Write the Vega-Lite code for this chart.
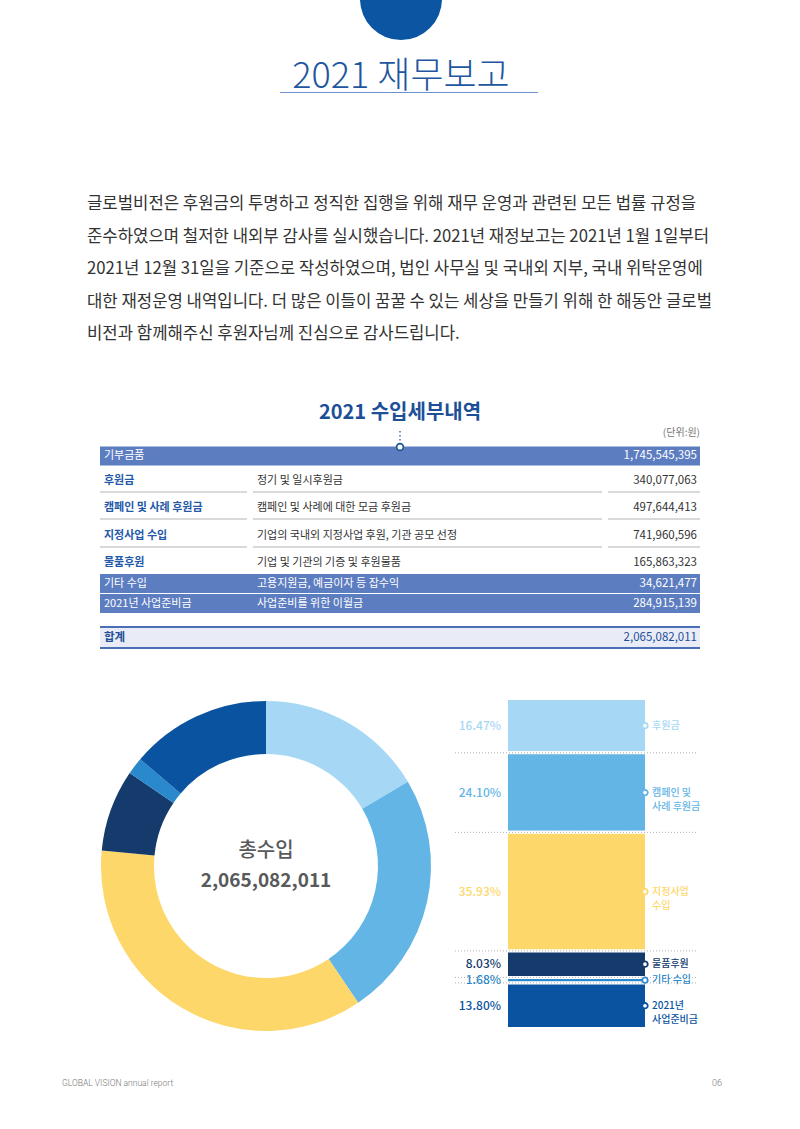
{
"$schema":"https://vega.github.io/schema/vega-lite/v6.json",
"width":800,"height":1129,"autosize":"none","padding":0,"background":"#ffffff",
"config":{"view":{"stroke":null},"font":"Noto Sans CJK KR"},
"datasets":{
"income":[
{"order":1,"item":"기부금품","desc":"","amount":1745545395,"kind":"band","share":null,"label":null,"group":"수입"},
{"order":2,"item":"후원금","desc":"정기 및 일시후원금","amount":340077063,"kind":"plain","share":0.1647,"label":"후원금","group":"수입"},
{"order":3,"item":"캠페인 및 사례 후원금","desc":"캠페인 및 사례에 대한 모금 후원금","amount":497644413,"kind":"plain","share":0.2410,"label":["캠페인 및","사례 후원금"],"group":"수입"},
{"order":4,"item":"지정사업 수입","desc":"기업의 국내외 지정사업 후원, 기관 공모 선정","amount":741960596,"kind":"plain","share":0.3593,"label":["지정사업","수입"],"group":"수입"},
{"order":5,"item":"물품후원","desc":"기업 및 기관의 기증 및 후원물품","amount":165863323,"kind":"plain","share":0.0803,"label":"물품후원","group":"수입"},
{"order":6,"item":"기타 수입","desc":"고용지원금, 예금이자 등 잡수익","amount":34621477,"kind":"band","share":0.0168,"label":"기타 수입","group":"수입"},
{"order":7,"item":"2021년 사업준비금","desc":"사업준비를 위한 이월금","amount":284915139,"kind":"band","share":0.1380,"label":["2021년","사업준비금"],"group":"수입"},
{"order":8,"item":"합계","desc":"","amount":2065082011,"kind":"total","share":null,"label":null,"group":"합계"}
],
"heading":[{"title":"2021 재무보고","subtitle":"2021 수입세부내역","unit":"(단위:원)","center":"총수입","footer":"GLOBAL VISION annual report","page":"06"}],
"paragraph":[
{"line":"글로벌비전은 후원금의 투명하고 정직한 집행을 위해 재무 운영과 관련된 모든 법률 규정을"},
{"line":"준수하였으며 철저한 내외부 감사를 실시했습니다. 2021년 재정보고는 2021년 1월 1일부터"},
{"line":"2021년 12월 31일을 기준으로 작성하였으며, 법인 사무실 및 국내외 지부, 국내 위탁운영에"},
{"line":"대한 재정운영 내역입니다. 더 많은 이들이 꿈꿀 수 있는 세상을 만들기 위해 한 해동안 글로벌"},
{"line":"비전과 함께해주신 후원자님께 진심으로 감사드립니다."}
]
},
"layer":[
{"data":{"name":"heading"},"mark":{"type":"point","shape":"circle","filled":true,"size":6724,"color":"#0b55a3","opacity":1,"strokeWidth":0},
 "encoding":{"x":{"field":"title","type":"nominal","scale":{"type":"point","range":[401,401]},"axis":null},
 "y":{"field":"title","type":"nominal","scale":{"type":"point","range":[-1,-1]},"axis":null}}},
{"data":{"name":"heading"},"mark":{"type":"text","align":"center","baseline":"alphabetic","fontSize":36,"fontWeight":300,"color":"#1e56a0"},
 "encoding":{"text":{"field":"title"},
 "x":{"field":"title","type":"nominal","scale":{"type":"point","range":[401,401]},"axis":null},
 "y":{"field":"title","type":"nominal","scale":{"type":"point","range":[88,88]},"axis":null}}},
{"data":{"name":"heading"},"mark":{"type":"tick","orient":"horizontal","size":258,"thickness":1,"color":"#6d8fcb","opacity":1},
 "encoding":{"x":{"field":"title","type":"nominal","scale":{"type":"point","range":[409,409]},"axis":null},
 "y":{"field":"title","type":"nominal","scale":{"type":"point","range":[92.5,92.5]},"axis":null}}},
{"data":{"name":"paragraph"},"mark":{"type":"text","align":"left","baseline":"middle","fontSize":16.7,"color":"#333333"},
 "encoding":{"text":{"field":"line"},
 "x":{"field":"line","type":"nominal","scale":{"type":"point","range":[87,87]},"axis":null},
 "y":{"field":"line","type":"nominal","sort":null,"scale":{"type":"point","padding":0,"range":[204,334]},"axis":null}}},
{"data":{"name":"heading"},"mark":{"type":"text","align":"center","baseline":"middle","fontSize":20,"fontWeight":"bold","color":"#1d4f97"},
 "encoding":{"text":{"field":"subtitle"},
 "x":{"field":"subtitle","type":"nominal","scale":{"type":"point","range":[400,400]},"axis":null},
 "y":{"field":"subtitle","type":"nominal","scale":{"type":"point","range":[413,413]},"axis":null}}},
{"data":{"name":"heading"},"mark":{"type":"rule","strokeDash":[1.5,2.5],"color":"#1d4f97","strokeWidth":1.2},
 "encoding":{"x":{"field":"subtitle","type":"nominal","scale":{"type":"point","range":[400,400]},"axis":null},
 "y":{"datum":0,"type":"quantitative","scale":{"domain":[0,1],"range":[431,443]},"axis":null},
 "y2":{"datum":1}}},
{"data":{"name":"heading"},"mark":{"type":"text","align":"right","baseline":"middle","fontSize":10,"color":"#777777"},
 "encoding":{"text":{"field":"unit"},
 "x":{"field":"unit","type":"nominal","scale":{"type":"point","range":[700,700]},"axis":null},
 "y":{"field":"unit","type":"nominal","scale":{"type":"point","range":[433,433]},"axis":null}}},
{"data":{"name":"income"},"transform":[{"filter":{"field":"kind","equal":"band"}}],
 "mark":{"type":"tick","orient":"horizontal","size":600,"thickness":19,"color":"#5d7dc1","opacity":1},
 "encoding":{"y":{"field":"order","type":"quantitative","scale":{"domain":[1,2,3,4,5,6,7,8],"range":[456,481,508,536,563,583.5,603.5,637.5],"zero":false,"nice":false},"axis":null}}},
{"data":{"name":"heading"},"mark":{"type":"point","shape":"circle","filled":true,"fill":"#ffffff","stroke":"#1d4f97","strokeWidth":1.6,"size":45,"opacity":1},
 "encoding":{"x":{"field":"subtitle","type":"nominal","scale":{"type":"point","range":[400,400]},"axis":null},
 "y":{"field":"subtitle","type":"nominal","scale":{"type":"point","range":[447,447]},"axis":null}}},
{"data":{"name":"income"},"transform":[{"filter":{"field":"kind","equal":"total"}}],
 "mark":{"type":"tick","orient":"horizontal","size":600,"thickness":21,"color":"#e9ecf7","opacity":1},
 "encoding":{"y":{"field":"order","type":"quantitative","scale":{"domain":[1,2,3,4,5,6,7,8],"range":[456,481,508,536,563,583.5,603.5,637.5],"zero":false,"nice":false},"axis":null}}},
{"data":{"name":"income"},"transform":[{"filter":{"field":"kind","equal":"total"}}],
 "mark":{"type":"tick","orient":"horizontal","size":600,"thickness":2,"color":"#4a6fb7","opacity":1,"yOffset":-10.5},
 "encoding":{"y":{"field":"order","type":"quantitative","scale":{"domain":[1,2,3,4,5,6,7,8],"range":[456,481,508,536,563,583.5,603.5,637.5],"zero":false,"nice":false},"axis":null}}},
{"data":{"name":"income"},"transform":[{"filter":{"field":"kind","equal":"total"}}],
 "mark":{"type":"tick","orient":"horizontal","size":600,"thickness":2,"color":"#4a6fb7","opacity":1,"yOffset":10.5},
 "encoding":{"y":{"field":"order","type":"quantitative","scale":{"domain":[1,2,3,4,5,6,7,8],"range":[456,481,508,536,563,583.5,603.5,637.5],"zero":false,"nice":false},"axis":null}}},
{"data":{"name":"income"},"transform":[{"filter":{"field":"order","range":[2,4]}}],
 "mark":{"type":"tick","orient":"horizontal","size":147,"thickness":1.5,"color":"#cccccc","opacity":1,"yOffset":11,"xOffset":-226.5},
 "encoding":{"y":{"field":"order","type":"quantitative","scale":{"domain":[1,2,3,4,5,6,7,8],"range":[456,481,508,536,563,583.5,603.5,637.5],"zero":false,"nice":false},"axis":null}}},
{"data":{"name":"income"},"transform":[{"filter":{"field":"order","range":[2,4]}}],
 "mark":{"type":"tick","orient":"horizontal","size":349,"thickness":1.5,"color":"#cccccc","opacity":1,"yOffset":11,"xOffset":27.5},
 "encoding":{"y":{"field":"order","type":"quantitative","scale":{"domain":[1,2,3,4,5,6,7,8],"range":[456,481,508,536,563,583.5,603.5,637.5],"zero":false,"nice":false},"axis":null}}},
{"data":{"name":"income"},"transform":[{"filter":{"field":"order","range":[2,4]}}],
 "mark":{"type":"tick","orient":"horizontal","size":92,"thickness":1.5,"color":"#cccccc","opacity":1,"yOffset":11,"xOffset":254},
 "encoding":{"y":{"field":"order","type":"quantitative","scale":{"domain":[1,2,3,4,5,6,7,8],"range":[456,481,508,536,563,583.5,603.5,637.5],"zero":false,"nice":false},"axis":null}}},
{"data":{"name":"income"},"transform":[{"filter":{"field":"kind","equal":"plain"}}],
 "mark":{"type":"text","align":"left","baseline":"middle","fontSize":11,"fontWeight":"bold","color":"#2459a9"},
 "encoding":{"text":{"field":"item"},
 "x":{"field":"item","type":"nominal","scale":{"type":"point","range":[104,104]},"axis":null},
 "y":{"field":"order","type":"quantitative","scale":{"domain":[1,2,3,4,5,6,7,8],"range":[456,481,508,536,563,583.5,603.5,637.5],"zero":false,"nice":false},"axis":null}}},
{"data":{"name":"income"},"transform":[{"filter":{"field":"kind","equal":"band"}}],
 "mark":{"type":"text","align":"left","baseline":"middle","fontSize":11,"color":"#ffffff"},
 "encoding":{"text":{"field":"item"},
 "x":{"field":"item","type":"nominal","scale":{"type":"point","range":[104,104]},"axis":null},
 "y":{"field":"order","type":"quantitative","scale":{"domain":[1,2,3,4,5,6,7,8],"range":[456,481,508,536,563,583.5,603.5,637.5],"zero":false,"nice":false},"axis":null}}},
{"data":{"name":"income"},"transform":[{"filter":{"field":"kind","equal":"total"}}],
 "mark":{"type":"text","align":"left","baseline":"middle","fontSize":11.5,"fontWeight":"bold","color":"#1d4f97"},
 "encoding":{"text":{"field":"item"},
 "x":{"field":"item","type":"nominal","scale":{"type":"point","range":[104,104]},"axis":null},
 "y":{"field":"order","type":"quantitative","scale":{"domain":[1,2,3,4,5,6,7,8],"range":[456,481,508,536,563,583.5,603.5,637.5],"zero":false,"nice":false},"axis":null}}},
{"data":{"name":"income"},"transform":[{"filter":{"field":"order","range":[2,7]}}],
 "mark":{"type":"text","align":"left","baseline":"middle","fontSize":11},
 "encoding":{"text":{"field":"desc"},
 "color":{"condition":{"test":"datum.kind == 'band'","value":"#ffffff"},"value":"#333333"},
 "x":{"field":"desc","type":"nominal","scale":{"type":"point","range":[257,257]},"axis":null},
 "y":{"field":"order","type":"quantitative","scale":{"domain":[1,2,3,4,5,6,7,8],"range":[456,481,508,536,563,583.5,603.5,637.5],"zero":false,"nice":false},"axis":null}}},
{"data":{"name":"income"},
 "mark":{"type":"text","align":"right","baseline":"middle","fontSize":11.5},
 "encoding":{"text":{"field":"amount","type":"quantitative","format":",d"},
 "color":{"condition":[{"test":"datum.kind == 'band'","value":"#ffffff"},{"test":"datum.kind == 'total'","value":"#1d4f97"}],"value":"#333333"},
 "x":{"field":"item","type":"nominal","scale":{"type":"point","range":[697,697]},"axis":null},
 "y":{"field":"order","type":"quantitative","scale":{"domain":[1,2,3,4,5,6,7,8],"range":[456,481,508,536,563,583.5,603.5,637.5],"zero":false,"nice":false},"axis":null}}},
{"data":{"name":"income"},"transform":[{"filter":{"field":"order","range":[2,7]}}],
 "mark":{"type":"arc","outerRadius":165,"innerRadius":112},
 "encoding":{"theta":{"field":"amount","type":"quantitative"},
 "order":{"field":"order","type":"quantitative"},
 "color":{"field":"item","type":"nominal","scale":{"domain":["후원금","캠페인 및 사례 후원금","지정사업 수입","물품후원","기타 수입","2021년 사업준비금"],"range":["#a6d8f5","#63b5e6","#fdd769","#143b6b","#2a88cc","#0a53a1"]},"legend":null},
 "x":{"field":"group","type":"nominal","scale":{"type":"point","range":[266,266]},"axis":null},
 "y":{"field":"group","type":"nominal","scale":{"type":"point","range":[866,866]},"axis":null}}},
{"data":{"name":"heading"},"mark":{"type":"text","align":"center","baseline":"middle","fontSize":20,"fontWeight":500,"color":"#58595b"},
 "encoding":{"text":{"field":"center"},
 "x":{"field":"center","type":"nominal","scale":{"type":"point","range":[266,266]},"axis":null},
 "y":{"field":"center","type":"nominal","scale":{"type":"point","range":[851,851]},"axis":null}}},
{"data":{"name":"income"},"transform":[{"filter":{"field":"kind","equal":"total"}}],
 "mark":{"type":"text","align":"center","baseline":"middle","fontSize":19,"fontWeight":"bold","color":"#58595b"},
 "encoding":{"text":{"field":"amount","type":"quantitative","format":",d"},
 "x":{"field":"item","type":"nominal","scale":{"type":"point","range":[266,266]},"axis":null},
 "y":{"field":"item","type":"nominal","scale":{"type":"point","range":[881,881]},"axis":null}}},
{"data":{"name":"income"},"transform":[{"filter":{"field":"order","range":[2,7]}}],
 "mark":{"type":"bar","stroke":"#ffffff","strokeWidth":3},
 "encoding":{"x":{"field":"group","type":"nominal","scale":{"type":"band","paddingInner":0,"paddingOuter":0,"range":[506.5,646.5]},"axis":null},
 "y":{"field":"amount","type":"quantitative","stack":"zero","scale":{"domain":[0,2065082011],"range":[698.5,1028.5],"zero":false,"nice":false},"axis":null},
 "order":{"field":"order","type":"quantitative"},
 "color":{"field":"item","type":"nominal","scale":{"domain":["후원금","캠페인 및 사례 후원금","지정사업 수입","물품후원","기타 수입","2021년 사업준비금"],"range":["#a6d8f5","#63b5e6","#fdd769","#143b6b","#2a88cc","#0a53a1"]},"legend":null}}},
{"data":{"name":"income"},"transform":[{"filter":{"field":"order","range":[2,7]}},
 {"stack":"amount","groupby":["group"],"sort":[{"field":"order","order":"ascending"}],"as":["y0","y1"]},
 {"filter":{"field":"order","range":[2,6]}}],
 "mark":{"type":"rule","strokeDash":[1,2],"color":"#b0b0b0","strokeWidth":1},
 "encoding":{"y":{"field":"y1","type":"quantitative","scale":{"domain":[0,2065082011],"range":[698.5,1028.5],"zero":false,"nice":false},"axis":null},
 "x":{"datum":0,"type":"quantitative","scale":{"domain":[0,1],"range":[455,698]},"axis":null},
 "x2":{"datum":1}}},
{"data":{"name":"income"},"transform":[{"filter":{"field":"order","range":[2,7]}},
 {"stack":"amount","groupby":["group"],"sort":[{"field":"order","order":"ascending"}],"as":["y0","y1"]},
 {"fold":["y0","y1"],"as":["edge","pos"]},
 {"joinaggregate":[{"op":"mean","field":"pos","as":"mid"}],"groupby":["item"]},
 {"filter":{"field":"edge","equal":"y0"}}],
 "mark":{"type":"text","align":"right","baseline":"middle","fontSize":12,"fontWeight":500},
 "encoding":{"text":{"field":"share","type":"quantitative","format":".2%"},
 "x":{"field":"group","type":"nominal","scale":{"type":"point","range":[501,501]},"axis":null},
 "y":{"field":"mid","type":"quantitative","scale":{"domain":[0,2065082011],"range":[698.5,1028.5],"zero":false,"nice":false},"axis":null},
 "color":{"field":"item","type":"nominal","scale":{"domain":["후원금","캠페인 및 사례 후원금","지정사업 수입","물품후원","기타 수입","2021년 사업준비금"],"range":["#a6d8f5","#63b5e6","#fdd769","#143b6b","#2a88cc","#0a53a1"]},"legend":null}}},
{"data":{"name":"income"},"transform":[{"filter":{"field":"order","range":[2,7]}},
 {"stack":"amount","groupby":["group"],"sort":[{"field":"order","order":"ascending"}],"as":["y0","y1"]},
 {"fold":["y0","y1"],"as":["edge","pos"]},
 {"joinaggregate":[{"op":"mean","field":"pos","as":"mid"}],"groupby":["item"]},
 {"filter":{"field":"edge","equal":"y0"}}],
 "mark":{"type":"point","shape":"circle","filled":true,"fill":"#ffffff","strokeWidth":1.8,"size":30,"opacity":1},
 "encoding":{"x":{"field":"group","type":"nominal","scale":{"type":"point","range":[645,645]},"axis":null},
 "y":{"field":"mid","type":"quantitative","scale":{"domain":[0,2065082011],"range":[698.5,1028.5],"zero":false,"nice":false},"axis":null},
 "stroke":{"field":"item","type":"nominal","scale":{"domain":["후원금","캠페인 및 사례 후원금","지정사업 수입","물품후원","기타 수입","2021년 사업준비금"],"range":["#a6d8f5","#63b5e6","#fdd769","#143b6b","#2a88cc","#0a53a1"]},"legend":null}}},
{"data":{"name":"income"},"transform":[{"filter":{"field":"order","range":[2,7]}},
 {"stack":"amount","groupby":["group"],"sort":[{"field":"order","order":"ascending"}],"as":["y0","y1"]},
 {"fold":["y0","y1"],"as":["edge","pos"]},
 {"joinaggregate":[{"op":"mean","field":"pos","as":"mid"}],"groupby":["item"]},
 {"filter":{"field":"edge","equal":"y0"}}],
 "mark":{"type":"text","align":"left","baseline":"middle","fontSize":10,"lineHeight":14,"fontWeight":500},
 "encoding":{"text":{"field":"label"},
 "x":{"field":"group","type":"nominal","scale":{"type":"point","range":[652,652]},"axis":null},
 "y":{"field":"mid","type":"quantitative","scale":{"domain":[0,2065082011],"range":[698.5,1028.5],"zero":false,"nice":false},"axis":null},
 "color":{"field":"item","type":"nominal","scale":{"domain":["후원금","캠페인 및 사례 후원금","지정사업 수입","물품후원","기타 수입","2021년 사업준비금"],"range":["#a6d8f5","#63b5e6","#fdd769","#143b6b","#2a88cc","#0a53a1"]},"legend":null}}},
{"data":{"name":"heading"},"mark":{"type":"text","align":"left","baseline":"middle","fontSize":8.5,"font":"Roboto","fontWeight":300,"color":"#777777"},
 "encoding":{"text":{"field":"footer"},
 "x":{"field":"footer","type":"nominal","scale":{"type":"point","range":[62,62]},"axis":null},
 "y":{"field":"footer","type":"nominal","scale":{"type":"point","range":[1083,1083]},"axis":null}}},
{"data":{"name":"heading"},"mark":{"type":"text","align":"right","baseline":"middle","fontSize":9,"font":"Roboto","fontWeight":300,"color":"#777777"},
 "encoding":{"text":{"field":"page"},
 "x":{"field":"page","type":"nominal","scale":{"type":"point","range":[722,722]},"axis":null},
 "y":{"field":"page","type":"nominal","scale":{"type":"point","range":[1083,1083]},"axis":null}}}
],
"resolve":{"scale":{"x":"independent","y":"independent","color":"independent","stroke":"independent","theta":"independent"}}
}
